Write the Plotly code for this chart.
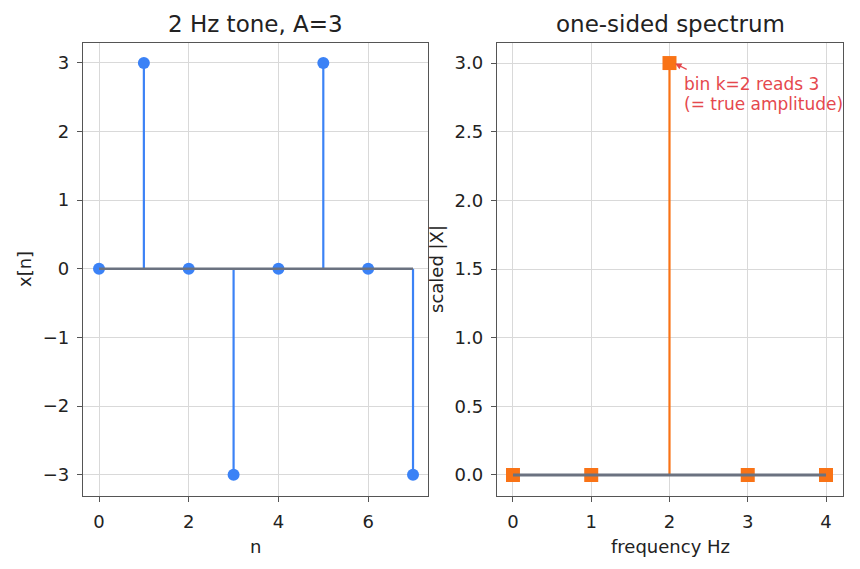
import plotly.graph_objects as go

# data
n = [0, 1, 2, 3, 4, 5, 6, 7]
x_n = [0, 3, 0, -3, 0, 3, 0, -3]
freq = [0, 1, 2, 3, 4]
mag = [0, 0, 3, 0, 0]

left_xticks = [0, 2, 4, 6]
left_yticks = [-3, -2, -1, 0, 1, 2, 3]
right_xticks = [0, 1, 2, 3, 4]
right_yticks = [0.0, 0.5, 1.0, 1.5, 2.0, 2.5, 3.0]

BLUE = "#3b82f6"
ORANGE = "#f97316"
GRAY = "#6b7280"
RED = "#e5484d"
FONT = "DejaVu Sans"

def stems(xs, ys):
    sx, sy = [], []
    for a, b in zip(xs, ys):
        sx += [a, a, None]
        sy += [0, b, None]
    return sx, sy

fig = go.Figure()

sx, sy = stems(n, x_n)
fig.add_trace(go.Scatter(x=sx, y=sy, mode="lines", line=dict(color=BLUE, width=2.2),
                         xaxis="x", yaxis="y", showlegend=False, hoverinfo="skip"))
fig.add_trace(go.Scatter(x=n, y=x_n, mode="markers",
                         marker=dict(color=BLUE, size=12, symbol="circle"),
                         xaxis="x", yaxis="y", showlegend=False))
fig.add_trace(go.Scatter(x=[n[0], n[-1]], y=[0, 0], mode="lines",
                         line=dict(color=GRAY, width=2.5), xaxis="x", yaxis="y",
                         showlegend=False, hoverinfo="skip"))

sx, sy = stems(freq, mag)
fig.add_trace(go.Scatter(x=sx, y=sy, mode="lines", line=dict(color=ORANGE, width=2.2),
                         xaxis="x2", yaxis="y2", showlegend=False, hoverinfo="skip"))
fig.add_trace(go.Scatter(x=freq, y=mag, mode="markers",
                         marker=dict(color=ORANGE, size=14, symbol="square"),
                         xaxis="x2", yaxis="y2", showlegend=False))
fig.add_trace(go.Scatter(x=[freq[0], freq[-1]], y=[0, 0], mode="lines",
                         line=dict(color=GRAY, width=2.8), xaxis="x2", yaxis="y2",
                         showlegend=False, hoverinfo="skip"))

W, H = 860, 569
ydom = [1 - 496 / H, 1 - 43 / H]

axis_common = dict(showline=True, mirror=True, linecolor="#555555", linewidth=1.3,
                   ticks="outside", ticklen=5, tickwidth=1.2, tickcolor="#555555",
                   ticklabelstandoff=4,
                   showgrid=True, gridcolor="#d9d9d9", gridwidth=0.8, zeroline=False,
                   tickfont=dict(family=FONT, size=18, color="#222222"))

fig.update_layout(
    width=W, height=H,
    margin=dict(l=0, r=0, t=0, b=0),
    paper_bgcolor="white", plot_bgcolor="white",
    font=dict(family=FONT, color="#222222"),
    xaxis=dict(domain=[83 / W, 428 / W], range=[-0.357, 7.334], tickvals=left_xticks,
               anchor="y", **axis_common),
    yaxis=dict(domain=ydom, range=[-3.31, 3.29], tickvals=left_yticks,
               ticktext=[("\u2212" + str(-v)) if v < 0 else str(v) for v in left_yticks],
               anchor="x", **axis_common),
    xaxis2=dict(domain=[497 / W, 843 / W], range=[-0.204, 4.217], tickvals=right_xticks,
                anchor="y2", **axis_common),
    yaxis2=dict(domain=ydom, range=[-0.153, 3.146], tickvals=right_yticks,
                ticktext=[f"{v:.1f}" for v in right_yticks], anchor="x2", **axis_common),
)

ann = []
def paper_text(text, px, py, size=18, angle=0, xanchor="center", color="#222222"):
    ann.append(dict(text=text, x=px / W, y=1 - py / H, xref="paper", yref="paper",
                    showarrow=False, textangle=angle, xanchor=xanchor, yanchor="middle",
                    font=dict(family=FONT, size=size, color=color)))

paper_text("2 Hz tone, A=3", 255, 24, size=23)
paper_text("one-sided spectrum", 670, 24, size=23)
paper_text("n", 255, 546)
paper_text("frequency Hz", 670, 546)
paper_text("x[n]", 24, 269, angle=-90)
paper_text("scaled |X|", 436, 269, angle=-90)

# arrow annotation
ann.append(dict(x=2.06, y=3.0, xref="x2", yref="y2", text="", showarrow=True,
                arrowhead=2, arrowsize=1, arrowwidth=1.3, arrowcolor=RED,
                ax=14, ay=7, standoff=1))
paper_text("bin k=2 reads 3", 682, 84, size=17, xanchor="left", color=RED)
paper_text("(= true amplitude)", 682, 104, size=17, xanchor="left", color=RED)

fig.update_layout(annotations=ann)
fig.write_html("out.html")
